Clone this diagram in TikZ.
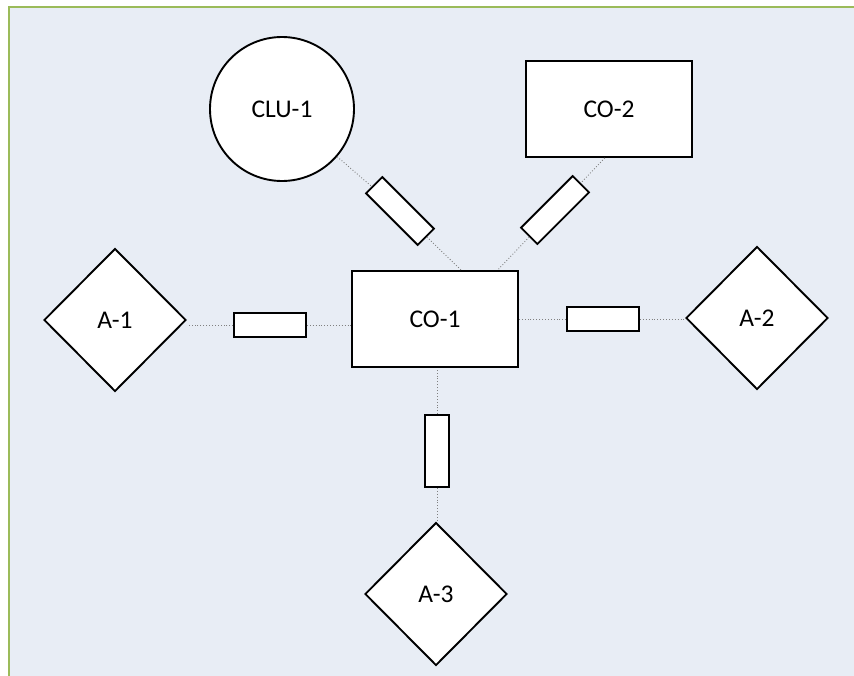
\documentclass[tikz,border=0pt]{standalone}
\usepackage{fontspec}
\setmainfont{Carlito}
\usetikzlibrary{shapes.geometric}
\definecolor{bgcol}{RGB}{232,237,245}
\definecolor{framecol}{RGB}{155,187,89}
\definecolor{dotcol}{RGB}{128,128,128}
\tikzset{
  shapebase/.style={draw=black, fill=white, line width=1.9pt, inner sep=0pt,
    font=\fontsize{25.5}{30}\selectfont},
  bigbox/.style={shapebase, rectangle, minimum width=166pt, minimum height=96pt},
  circnode/.style={shapebase, circle, minimum size=144pt},
  diam/.style={shapebase, diamond, minimum width=142pt, minimum height=143pt},
  linkbox/.style={draw=black, fill=white, line width=1.8pt, inner sep=0pt,
    minimum width=72pt, minimum height=24pt},
  conn/.style={draw=dotcol, line width=0.9pt, dash pattern=on 0.9pt off 2pt}
}
\begin{document}
\begin{tikzpicture}[x=1pt,y=-1pt]
\useasboundingbox (0,0) rectangle (854,675);
\fill[bgcol] (9,7) rectangle (880,700);
\draw[framecol, line width=2.4pt] (9,700) -- (9,7) -- (880,7);

\node[circnode] (clu) at (282,109) {CLU-1};
\node[bigbox] (co2) at (609,109) {CO-2};
\node[bigbox] (co1) at (435,319) {CO-1};
\node[diam] (a1) at (115,320) {A-1};
\node[diam] (a2) at (757,318) {A-2};
\node[diam] (a3) at (436,594) {A-3};

\node[linkbox] (l1) at (270,325) {};
\node[linkbox] (r1) at (603,319) {};
\node[linkbox, rotate=90] (b1) at (437,451) {};
\node[linkbox, minimum width=73pt, minimum height=23pt, rotate=-45] (d1) at (400,211) {};
\node[linkbox, minimum width=73pt, minimum height=23pt, rotate=45] (d2) at (555,210) {};

\draw[conn] (clu) -- (d1);
\draw[conn] (d1) -- (co1.62.5);
\draw[conn] (co2.265) -- (d2);
\draw[conn] (d2) -- (co1.38);
\draw[conn] (l1.west) -- (l1.west -| a1.east);
\draw[conn] (l1.east) -- (l1.east -| co1.west);
\draw[conn] (r1.west) -- (r1.west -| co1.east);
\draw[conn] (r1.east) -- (r1.east -| a2.west);
\draw[conn] (b1.east) -- (b1.east |- co1.south);
\draw[conn] (b1.west) -- (b1.west |- a3.north);
\end{tikzpicture}
\end{document}
